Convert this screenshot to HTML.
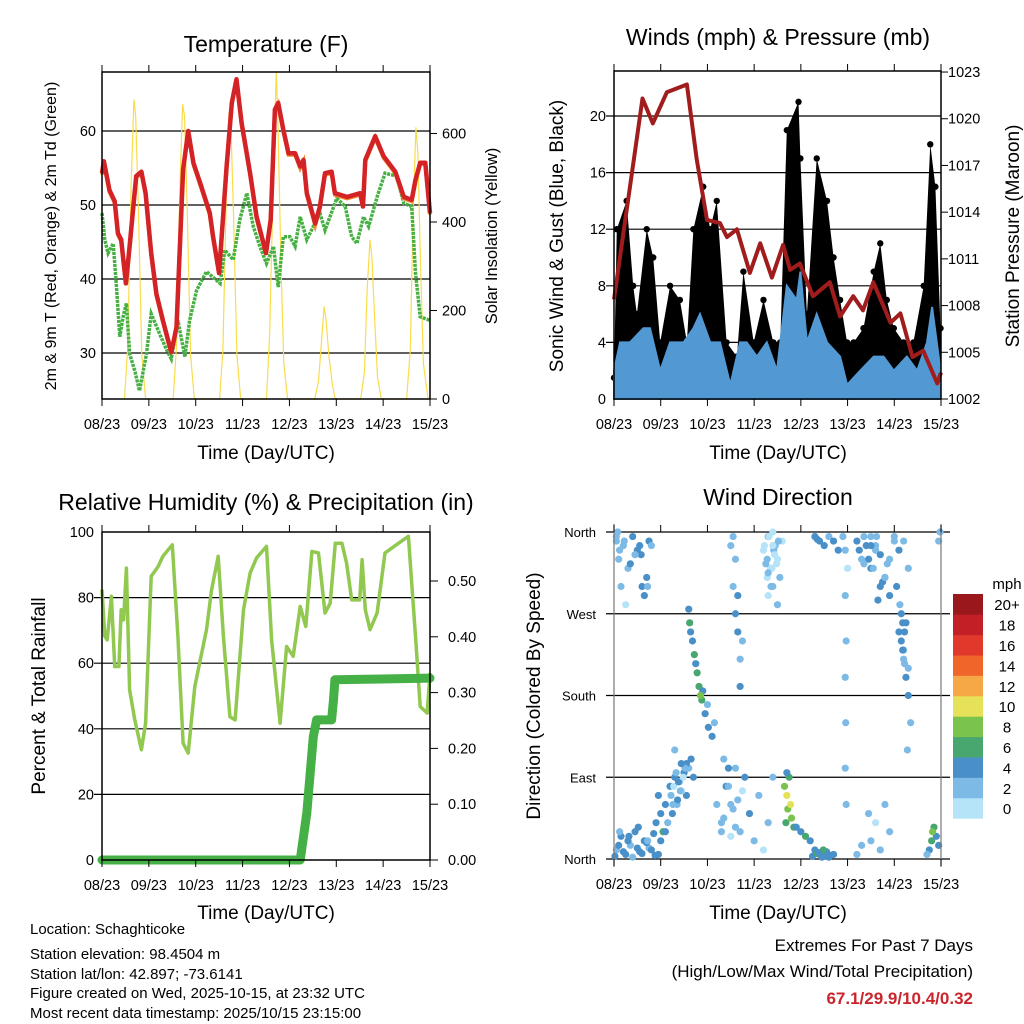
<!DOCTYPE html>
<html><head><meta charset="utf-8"><style>
html,body{margin:0;padding:0;background:#fff;}
svg{display:block;font-family:"Liberation Sans",sans-serif;}
</style></head><body>
<svg id="root" width="1024" height="1024" viewBox="0 0 1024 1024" xmlns="http://www.w3.org/2000/svg">
<rect x="0" y="0" width="1024" height="1024" fill="#fff"/>
<g id="p1"></g>
<g id="p2"></g>
<g id="p3"></g>
<g id="p4"></g>
<g font-size="15" fill="#000">
<text x="30" y="934">Location: Schaghticoke</text>
<text x="30" y="959">Station elevation: 98.4504 m</text>
<text x="30" y="979">Station lat/lon: 42.897; -73.6141</text>
<text x="30" y="998">Figure created on Wed, 2025-10-15, at 23:32 UTC</text>
<text x="30" y="1018">Most recent data timestamp: 2025/10/15 23:15:00</text>
</g>
<g text-anchor="end">
<text x="973" y="951" font-size="17">Extremes For Past 7 Days</text>
<text x="973" y="977" font-size="17">(High/Low/Max Wind/Total Precipitation)</text>
<text x="973" y="1004" font-size="17" font-weight="bold" fill="#c9252c">67.1/29.9/10.4/0.32</text>
</g>
</svg>
<script>
// ---------- DATA ----------
const dayLabels = ["08/23","09/23","10/23","11/23","12/23","13/23","14/23","15/23"];
const tempTicks = [30,40,50,60];
const solarTicks = [0,200,400,600];
const tempDays = [0,0.04,0.16,0.27,0.34,0.41,0.51,0.59,0.73,0.84,0.93,1.05,1.16,1.30,1.48,1.59,1.73,1.84,1.95,2.12,2.30,2.37,2.50,2.66,2.77,2.87,2.98,3.16,3.30,3.50,3.60,3.69,3.76,3.87,3.98,4.12,4.23,4.30,4.37,4.55,4.65,4.76,4.90,4.97,5.23,5.51,5.57,5.62,5.83,6.01,6.26,6.44,6.61,6.69,6.79,6.90,7.0];
const tempVals = [54.3,55.9,52,50.5,46.2,45.3,39.4,44.4,53.9,54.5,51.6,43.5,38,34.4,30.1,33.5,54.8,60,55.7,52.5,48.9,45.7,40.8,55.2,63.8,67,61.1,54.3,48.4,43.5,48,62.9,63.8,60.2,57,57,55.2,56.1,51.6,47.5,49.8,54.3,54.5,51.6,51.1,51.6,49.8,56.1,59.3,56.6,54.5,51.1,50.7,53.4,55.7,55.7,48.9];
const dewDays = [0,0.06,0.13,0.24,0.31,0.38,0.45,0.52,0.59,0.70,0.80,0.95,1.05,1.23,1.38,1.48,1.62,1.77,1.87,2.02,2.23,2.52,2.62,2.80,2.94,3.09,3.23,3.37,3.51,3.66,3.76,3.87,4.01,4.12,4.23,4.37,4.51,4.65,4.76,5.01,5.19,5.33,5.44,5.58,5.69,5.87,6.04,6.29,6.44,6.61,6.69,6.79,7.0];
const dewVals = [48.9,45.3,43.5,44.8,38.9,32.2,34.9,36.7,29.9,27.6,24.9,29.9,35.3,32.6,30.4,29.2,34.4,29.5,34.4,38.5,41,39.4,43.9,42.6,48,51.6,47.1,44.4,42.1,44.4,38.9,45.7,45.7,44.4,48.4,45.3,47.1,48.9,46.6,50.9,49.8,45.7,44.8,48.4,47.1,51.1,54.3,53.9,50.2,49.8,40.8,34.9,34.4];
const solarDays = [0.48,0.55,0.62,0.68,0.72,0.78,0.85,0.93, 1.52,1.59,1.66,1.72,1.76,1.82,1.89,1.97, 2.51,2.58,2.65,2.71,2.75,2.81,2.88,2.96, 3.51,3.58,3.66,3.72,3.76,3.82,3.88,3.96, 4.54,4.62,4.70,4.74,4.78,4.84,4.92,4.98, 5.52,5.60,5.66,5.72,5.76,5.82,5.88,5.96, 6.50,6.58,6.64,6.70,6.74,6.80,6.86,6.96];
const solarVals = [0,120,480,677,640,420,100,0, 0,120,470,666,640,420,100,0, 0,110,450,647,620,400,100,0, 0,150,520,741,600,300,80,0, 0,40,150,209,180,100,30,0, 0,60,250,360,320,180,50,0, 0,110,420,614,560,300,80,0];

const windTicks = [0,4,8,12,16,20];
const presTicks = [1002,1005,1008,1011,1014,1017,1020,1023];
const gustDays = [0,0.06,0.27,0.41,0.49,0.70,0.84,0.99,1.2,1.41,1.56,1.7,1.91,2.06,2.2,2.41,2.63,2.77,2.99,3.2,3.41,3.56,3.7,3.95,3.99,4.13,4.34,4.56,4.7,4.84,4.99,5.13,5.34,5.56,5.7,5.84,5.99,6.2,6.41,6.63,6.77,6.88,6.99];
const gustVals = [1.5,12,14,8,6,12,10,4,8,7,4,12,15,12,14,4,3,9,4,7,4,4,19,21,17,6,17,14,10,7,4,4,5,9,11,7,5,4,4,8,18,15,5];
const windDays = [0,0.13,0.34,0.63,0.77,0.99,1.2,1.49,1.7,1.84,2.06,2.27,2.49,2.7,2.84,3.06,3.27,3.49,3.7,3.91,3.99,4.13,4.34,4.56,4.84,4.99,5.27,5.56,5.77,5.99,6.27,6.49,6.7,6.81,6.99];
const windVals = [2,4,4,5,5,2,4,4,5,6,4,4,1,4,4,3,4,2,8,7,9,4,6,4,3,1,2,3,3,2,3,2,4,6.5,2];
const presDays = [0,0.61,0.83,1.13,1.56,1.77,1.99,2.27,2.42,2.63,2.91,3.13,3.38,3.62,3.77,3.98,4.26,4.62,4.84,5.12,5.33,5.55,5.92,6.13,6.39,6.62,6.92,7.0];
const presVals = [1008.4,1021.3,1019.7,1021.7,1022.2,1017.4,1013.5,1013.3,1012.4,1012.9,1010.1,1012.0,1009.8,1011.9,1010.3,1010.7,1008.6,1009.5,1007.3,1008.6,1007.7,1009.5,1006.9,1007.5,1004.7,1005.1,1003.0,1003.7];

const rhTicks = [0,20,40,60,80,100];
const rainTicks = [0,0.1,0.2,0.3,0.4,0.5];
const rhDays = [0,0.06,0.11,0.20,0.27,0.36,0.41,0.46,0.52,0.59,0.70,0.84,0.93,1.05,1.20,1.30,1.50,1.62,1.73,1.84,1.98,2.23,2.34,2.48,2.59,2.73,2.84,3.02,3.16,3.30,3.51,3.62,3.80,3.94,4.08,4.23,4.35,4.48,4.62,4.76,4.87,4.98,5.12,5.22,5.33,5.50,5.55,5.62,5.72,5.87,6.04,6.33,6.54,6.69,6.79,6.94,7.0];
const rhVals = [82.4,68.2,67.1,80.4,59,59,76.3,73.2,89,51.9,42.7,33.6,41.7,86.5,89.5,92.6,96.1,68.2,35.6,32.6,52.9,70.2,82.4,92.6,68.2,43.7,42.7,76.3,87.5,92.1,95.6,67.1,41.7,65.1,62.1,77.3,71.2,94.1,93.6,75.3,78.3,96.6,96.6,90.5,79.3,79.3,91.6,76.3,70.2,75.3,93.6,96.6,98.7,68.2,46.8,44.8,57];
const rainDays = [0,4.23,4.37,4.51,4.58,4.90,4.94,4.97,7.0];
const rainVals = [0,0,0.084,0.221,0.251,0.251,0.287,0.323,0.326];

const dirLabels = ["North","East","South","West","North"];
const dirTicks = [0,90,180,270,360];
const dirDays = [0.05,0.15,0.25,0.35,0.45,0.55,0.65,0.75,0.85,0.95,0.9,1.0,1.05,1.1,0.95,
0.05,0.1,0.2,0.3,0.4,0.5,0.6,0.65,0.75,0.8,0.15,0.25,0.55,0.58,
1.2,1.3,1.4,1.5,1.55,1.6,1.45,1.35,1.7,1.65,1.25,1.55,1.15,1.3,
1.6,1.62,1.68,1.72,1.78,1.82,1.88,1.95,2.02,2.1,2.15,1.75,1.9,2.0,1.85,1.64,
2.5,2.55,2.6,2.65,2.7,2.7,2.75,2.65,2.6,2.55,
2.3,2.5,2.7,2.9,3.0,3.1,2.6,2.8,3.2,3.3,3.4,2.4,2.45,2.2,2.35,
3.2,3.3,3.35,3.4,3.45,3.5,3.55,3.6,3.3,3.4,3.5,3.25,
3.65,3.7,3.72,3.78,3.8,3.75,3.68,3.85,3.7,
3.9,4.0,4.1,4.2,4.3,4.4,4.5,4.6,4.7,4.45,4.55,
4.3,4.4,4.5,4.6,4.7,4.8,4.9,4.35,
4.95,4.95,4.97,4.95,4.96,4.95,4.97,5.0,
5.2,5.3,5.4,5.5,5.6,5.7,5.8,5.9,6.0,6.1,6.2,6.3,5.5,5.65,5.75,5.85,
6.1,6.2,6.25,6.3,6.35,6.15,6.28,6.22,
5.5,5.6,5.8,5.7,5.9,5.3,5.2,5.45,
6.75,6.8,6.85,6.9,6.95,6.7,6.95,6.98,6.82,
0.02,0.1,0.2,0.3,0.4,0.5,0.6,0.7,0.8,0.88,0.12,0.32,0.52,0.72,
0.05,0.12,0.22,0.35,0.45,0.7,0.72,0.08,
1.22,1.28,1.33,1.38,1.42,1.48,1.52,1.36,1.44,1.26,1.1,1.0,
3.22,3.28,3.32,3.38,3.42,3.48,3.52,3.28,3.36,3.44,3.3,3.4,
4.25,4.35,4.45,4.55,4.65,4.48,4.58,4.38,
5.25,5.35,5.45,5.55,5.6,5.7,5.8,5.9,6.0,6.05,6.12,6.18,5.35,5.5,5.62,
6.15,6.2,6.25,6.18,6.3,6.22,
2.3,2.35,2.5,2.55,2.6,2.45,2.65,2.75];
const dirDegs = [10,25,5,15,30,8,20,12,28,5,40,50,30,60,70,
350,330,345,320,355,340,300,290,350,345,300,280,345,335,
80,90,85,95,70,100,75,60,90,110,50,105,40,120,
275,260,240,225,205,190,175,160,145,135,150,215,185,170,180,250,
345,355,330,250,220,190,240,290,270,300,
40,60,30,50,20,70,100,90,10,40,90,80,100,60,110,
340,355,320,300,345,330,310,350,290,360,280,325,
80,70,55,60,45,90,40,35,95,
35,30,25,20,10,5,3,2,5,8,4,
355,350,345,355,350,340,355,352,
340,290,240,200,150,100,60,320,
350,330,345,320,340,300,310,330,355,340,350,320,355,285,305,325,
250,230,200,180,150,270,120,215,
20,40,60,10,30,15,5,50,
10,20,35,25,15,5,350,360,30,
3,15,8,20,2,12,6,18,10,4,30,25,35,20,
355,340,350,325,335,310,300,360,
70,80,95,85,75,90,100,65,105,60,30,20,
345,330,355,320,340,325,350,310,300,335,315,345,
3,6,2,8,4,10,5,7,
340,355,330,320,345,335,310,290,350,300,280,260,325,345,355,
240,220,260,230,210,250,
30,45,25,55,35,80,65,75];
const dirSpeeds = [2,3,4,2,3,4,3,2,4,3,4,4,5,4,3,
1,2,1,2,3,3,4,4,3,2,1,0,3,4,
3,4,2,4,3,2,0,1,4,3,3,4,1,2,
4,5,4,6,5,6,5,4,4,3,2,4,3,2,7,4,
1,2,1,3,2,4,1,3,4,2,
1,2,1,3,1,2,1,3,0,1,2,3,4,1,2,
0,1,0,1,1,0,1,0,0,0,1,1,
8,9,7,10,8,6,6,5,4,
4,4,5,4,4,5,4,3,4,5,4,
4,3,3,2,3,4,1,4,
1,1,1,1,1,1,1,0,
3,2,4,3,2,3,4,1,2,3,1,2,1,4,3,2,
3,2,3,4,2,3,1,2,
1,0,1,2,1,2,1,1,
4,5,6,4,3,2,1,2,7,
3,3,4,3,2,3,3,4,4,3,2,3,3,2,
2,1,2,3,1,3,2,1,
1,0,2,3,1,0,2,4,3,1,3,4,
0,1,0,0,1,0,1,0,1,0,1,0,
4,5,4,3,4,5,3,4,
3,2,4,1,2,3,1,3,2,3,2,3,1,3,2,
3,2,3,3,2,3,
1,1,0,2,1,1,2,0];
const scaleLabels = ["0","2","4","6","8","10","12","14","16","18","20+"];
const scaleColors = ["#b5e3f8","#7dbbe6","#4a90c8","#48a66f","#7ac34c","#e5e25a","#f6a846","#f0652a","#e0382a","#c21f27","#9a171c"];

// ---------- helpers ----------
const NS = "http://www.w3.org/2000/svg";
function mk(parent, tag, attrs, txt){
  const e = document.createElementNS(NS, tag);
  for (const k in attrs) e.setAttribute(k, attrs[k]);
  if (txt !== undefined) e.textContent = txt;
  parent.appendChild(e);
  return e;
}
function pathFrom(xs, ys, fx, fy){
  return xs.map((d,i)=>(i?'L':'M')+fx(d).toFixed(1)+','+fy(ys[i]).toFixed(1)).join('');
}
const TF = 14.5;

// ---------- Panel 1: Temperature ----------
(function(){
  const g = document.getElementById('p1');
  const L=102,R=430,T=72,B=399;
  const x = d => L + d*(R-L)/7;
  const y = v => 131 + (60-v)*7.4;
  const ys = v => B - v*0.4425;
  let e;
  e = mk(g,'text',{x:266,y:52,'font-size':23,'text-anchor':'middle'},'Temperature (F)');
  
  
  tempTicks.forEach(t=>{
    e = mk(g,'line',{x1:L,x2:R,y1:y(t),y2:y(t),stroke:'#000','stroke-width':1.2});
    
    
    e = mk(g,'text',{x:L-6,y:y(t)+5,'font-size':TF,'text-anchor':'end'},String(t));
    
    
  });
  solarTicks.forEach(t=>{
    mk(g,'line',{x1:R,x2:R+7,y1:ys(t),y2:ys(t),stroke:'#000'});
    e = mk(g,'text',{x:R+12,y:ys(t)+5,'font-size':TF},String(t));
    
    
  });
  e = mk(g,'path',{d:pathFrom(solarDays,solarVals,x,ys),fill:'none',stroke:'#f9dc4a','stroke-width':1.2});
  
  
  e = mk(g,'path',{d:pathFrom(dewDays,dewVals,x,y),fill:'none',stroke:'#46b043','stroke-width':3.5,'stroke-dasharray':'3 1'});
  
  
  e = mk(g,'path',{d:pathFrom(tempDays,tempVals,x,v=>y(v)+1.5),fill:'none',stroke:'#f08a2c','stroke-width':4});
  
  
  e = mk(g,'path',{d:pathFrom(tempDays,tempVals,x,y),fill:'none',stroke:'#d42326','stroke-width':4.5,'stroke-linejoin':'round'});
  
  
  e = mk(g,'rect',{x:L,y:T,width:R-L,height:B-T,fill:'none',stroke:'#000','stroke-width':1.5});
  
  
  dayLabels.forEach((lb,i)=>{
    mk(g,'line',{x1:x(i),x2:x(i),y1:B,y2:B+7,stroke:'#000'});
    mk(g,'line',{x1:x(i),x2:x(i),y1:T,y2:T-7,stroke:'#000'});
    e = mk(g,'text',{x:x(i),y:B+30,'font-size':TF,'text-anchor':'middle'},lb);
    
    
  });
  e = mk(g,'text',{x:266,y:459,'font-size':19,'text-anchor':'middle'},'Time (Day/UTC)');
  
  
  e = mk(g,'text',{x:0,y:0,'font-size':16,'text-anchor':'middle',transform:'translate(56,236) rotate(-90)'},'2m & 9m T (Red, Orange) & 2m Td (Green)');
  
  
  e = mk(g,'text',{x:0,y:0,'font-size':16.5,'text-anchor':'middle',transform:'translate(497,236) rotate(-90)'},'Solar Insolation (Yellow)');
  
  
})();

// ---------- Panel 2: Winds ----------
(function(){
  const g = document.getElementById('p2');
  const L=614,R=941,T=71,B=399;
  const x = d => L + d*(R-L)/7;
  const y = v => B - v*14.15;
  const yp = p => B - (p-1002)*15.57;
  let e;
  e = mk(g,'text',{x:778,y:45,'font-size':23,'text-anchor':'middle'},'Winds (mph) & Pressure (mb)');
  
  
  windTicks.forEach(t=>{
    if(t>0){
      e = mk(g,'line',{x1:L-8,x2:R,y1:y(t),y2:y(t),stroke:'#000','stroke-width':1.2});
      
      
    }
    e = mk(g,'text',{x:L-8,y:y(t)+5,'font-size':TF,'text-anchor':'end'},String(t));
    
    
  });
  presTicks.forEach(t=>{
    mk(g,'line',{x1:R,x2:R+7,y1:yp(t),y2:yp(t),stroke:'#000'});
    e = mk(g,'text',{x:R+7,y:yp(t)+5,'font-size':TF},String(t));
    
    
  });
  let top = gustDays.map((d,i)=>x(d).toFixed(1)+','+y(gustVals[i]).toFixed(1));
  let bot = windDays.slice().reverse().map((d,i)=>x(d).toFixed(1)+','+y(windVals[windVals.length-1-i]).toFixed(1));
  e = mk(g,'polygon',{points:top.concat(bot).join(' '),fill:'#000'});
  
  
  gustDays.forEach((d,i)=>{
    e = mk(g,'circle',{cx:x(d),cy:y(gustVals[i]),r:3.2,fill:'#000'});
    
    
  });
  let wp = windDays.map((d,i)=>x(d).toFixed(1)+','+y(windVals[i]).toFixed(1));
  wp.push(x(windDays[windDays.length-1])+','+y(0)); wp.unshift(x(windDays[0])+','+y(0));
  e = mk(g,'polygon',{points:wp.join(' '),fill:'#5298d2',stroke:'#5298d2','stroke-width':2});
  
  
  e = mk(g,'path',{d:pathFrom(presDays,presVals,x,yp),fill:'none',stroke:'#a11d1d','stroke-width':4,'stroke-linejoin':'round'});
  
  
  e = mk(g,'rect',{x:L,y:T,width:R-L,height:B-T,fill:'none',stroke:'#000','stroke-width':1.5});
  
  
  dayLabels.forEach((lb,i)=>{
    mk(g,'line',{x1:x(i),x2:x(i),y1:B,y2:B+7,stroke:'#000'});
    mk(g,'line',{x1:x(i),x2:x(i),y1:T,y2:T-7,stroke:'#000'});
    e = mk(g,'text',{x:x(i),y:B+30,'font-size':TF,'text-anchor':'middle'},lb);
    
    
  });
  e = mk(g,'text',{x:778,y:459,'font-size':19,'text-anchor':'middle'},'Time (Day/UTC)');
  
  
  e = mk(g,'text',{x:0,y:0,'font-size':19,'text-anchor':'middle',transform:'translate(563,236) rotate(-90)'},'Sonic Wind & Gust (Blue, Black)');
  
  
  e = mk(g,'text',{x:0,y:0,'font-size':19,'text-anchor':'middle',transform:'translate(1019,236) rotate(-90)'},'Station Pressure (Maroon)');
  
  
})();

// ---------- Panel 3: RH & precip ----------
(function(){
  const g = document.getElementById('p3');
  const L=102,R=430,T=532,B=860;
  const x = d => L + d*(R-L)/7;
  const y = v => B - v*3.28;
  const yr = v => B - v*558;
  let e;
  e = mk(g,'text',{x:266,y:510,'font-size':23,'text-anchor':'middle'},'Relative Humidity (%) & Precipitation (in)');
  
  
  rhTicks.forEach(t=>{
    if(t>0&&t<100){
      e = mk(g,'line',{x1:L-8,x2:R,y1:y(t),y2:y(t),stroke:'#000','stroke-width':1.2});
      
      
    }
    e = mk(g,'text',{x:L-8,y:y(t)+5,'font-size':TF,'text-anchor':'end'},String(t));
    
    
  });
  rainTicks.forEach(t=>{
    mk(g,'line',{x1:R,x2:R+8,y1:yr(t),y2:yr(t),stroke:'#000'});
    e = mk(g,'text',{x:R+18,y:yr(t)+5,'font-size':TF},t.toFixed(2));
    
    
  });
  e = mk(g,'path',{d:pathFrom(rhDays,rhVals,x,y),fill:'none',stroke:'#91c850','stroke-width':3.5,'stroke-linejoin':'round'});
  
  
  e = mk(g,'path',{d:pathFrom(rainDays,rainVals,x,yr),fill:'none',stroke:'#45b045','stroke-width':9,'stroke-linecap':'round','stroke-linejoin':'round'});
  
  
  e = mk(g,'rect',{x:L,y:T,width:R-L,height:B-T,fill:'none',stroke:'#000','stroke-width':1.5});
  
  
  dayLabels.forEach((lb,i)=>{
    mk(g,'line',{x1:x(i),x2:x(i),y1:B,y2:B+7,stroke:'#000'});
    mk(g,'line',{x1:x(i),x2:x(i),y1:T,y2:T-7,stroke:'#000'});
    e = mk(g,'text',{x:x(i),y:B+30,'font-size':TF,'text-anchor':'middle'},lb);
    
    
  });
  e = mk(g,'text',{x:266,y:919,'font-size':19,'text-anchor':'middle'},'Time (Day/UTC)');
  
  
  e = mk(g,'text',{x:0,y:0,'font-size':19,'text-anchor':'middle',transform:'translate(45,696) rotate(-90)'},'Percent & Total Rainfall');
  
  
})();

// ---------- Panel 4: Wind direction ----------
(function(){
  const g = document.getElementById('p4');
  const L=614,R=941,T=532,B=859;
  const x = d => L + d*(R-L)/7;
  const y = deg => B - deg*(B-T)/360;
  const col = s => scaleColors[Math.min(10, Math.floor((s+1)/2))];
  let e;
  e = mk(g,'text',{x:778,y:505,'font-size':23,'text-anchor':'middle'},'Wind Direction');
  
  
  dirTicks.forEach((t,i)=>{
    e = mk(g,'line',{x1:606,x2:950,y1:y(t),y2:y(t),stroke:'#000','stroke-width':1.2});
    
    
    e = mk(g,'text',{x:596,y:y(t)+5,'font-size':13,'text-anchor':'end'},dirLabels[i]);
    
    
  });
  dirDays.forEach((d,i)=>{
    e = mk(g,'circle',{cx:x(d),cy:y(dirDegs[i]),r:3.6,fill:col(dirSpeeds[i])});
    
    
  });
  mk(g,'line',{x1:L,x2:L,y1:T-8,y2:B+8,stroke:'#777','stroke-width':1.2});
  mk(g,'line',{x1:R,x2:R,y1:T-8,y2:B+8,stroke:'#777','stroke-width':1.2});
  dayLabels.forEach((lb,i)=>{
    mk(g,'line',{x1:x(i),x2:x(i),y1:B,y2:B+7,stroke:'#000'});
    mk(g,'line',{x1:x(i),x2:x(i),y1:T,y2:T-7,stroke:'#000'});
    e = mk(g,'text',{x:x(i),y:B+30,'font-size':TF,'text-anchor':'middle'},lb);
    
    
  });
  e = mk(g,'text',{x:778,y:919,'font-size':19,'text-anchor':'middle'},'Time (Day/UTC)');
  
  
  e = mk(g,'text',{x:0,y:0,'font-size':19,'text-anchor':'middle',transform:'translate(540,696) rotate(-90)'},'Direction (Colored By Speed)');
  
  
  e = mk(g,'text',{x:1007,y:589,'font-size':15,'text-anchor':'middle'},'mph');
  
  
  const cbTop=594, cbH=20.4;
  scaleLabels.forEach((lb,i)=>{
    const yy = cbTop + (10-i)*cbH;
    e = mk(g,'rect',{x:953,y:yy,width:30,height:cbH+0.3,fill:scaleColors[i]});
    
    
    e = mk(g,'text',{x:1007,y:yy+cbH/2+6,'font-size':15,'text-anchor':'middle'},lb);
    
    
  });
})();
</script>
</body></html>
